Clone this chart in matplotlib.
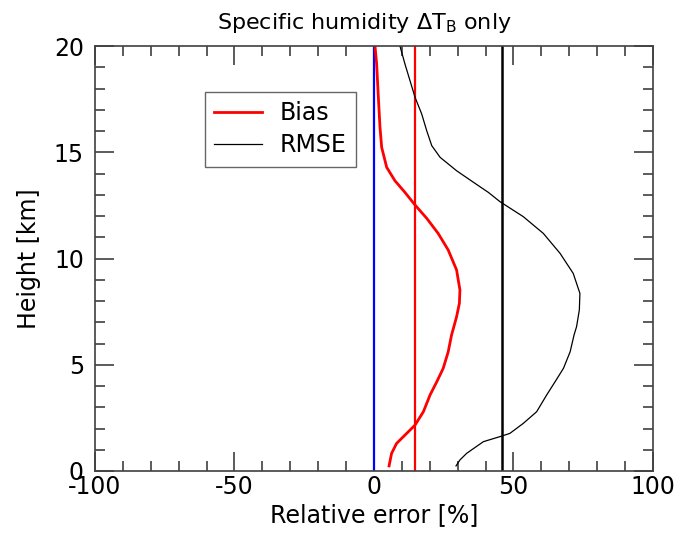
"""Relative error profiles of specific humidity for the TB-only retrieval."""

import matplotlib
matplotlib.use("Agg")
import matplotlib.pyplot as plt
from matplotlib.ticker import MultipleLocator


# values
bias_height = [0.24, 0.83, 1.3, 1.69, 2.16, 2.79, 3.58, 4.2, 4.83, 5.61, 6.4,
               7.26, 7.89, 8.52, 9.46, 10.4, 11.18, 11.89, 12.52, 13.11, 13.66,
               14.29, 15.23, 16.17, 17.74, 19.15, 20.0]
bias_value = [5.4, 6.3, 8.1, 11.1, 14.7, 17.7, 20.1, 22.5, 24.8, 26.6, 27.8,
              29.6, 30.6, 30.8, 29.6, 26.6, 23.0, 18.9, 14.7, 11.1, 7.5,
              4.55, 2.75, 2.15, 1.5, 0.95, 0.36]

rmse_height = [0.24, 0.52, 0.83, 1.38, 1.62, 1.77, 2.24, 2.79, 3.58, 4.2, 4.83,
               5.61, 6.4, 6.79, 7.58, 8.36, 9.3, 10.24, 11.18, 11.97, 12.67,
               13.11, 13.59, 14.13, 14.76, 15.31, 16.01, 16.8, 17.59, 18.37,
               19.15, 20.0]
rmse_value = [29.4, 30.8, 33.2, 39.2, 45.2, 48.7, 53.5, 58.3, 61.9, 64.9, 67.9,
              70.3, 71.7, 72.6, 73.6, 73.8, 71.4, 66.7, 60.7, 53.5, 45.2,
              41.0, 35.6, 29.6, 23.7, 20.7, 18.9, 17.1, 14.7, 12.9,
              11.1, 9.3]

mean_bias = 14.7
mean_rmse = 45.8

plt.rcParams["font.family"] = ["DejaVu Sans"]
plt.rcParams["axes.unicode_minus"] = False

fig = plt.figure(figsize=(6.79, 5.33), dpi=100)
ax = fig.add_axes([95 / 679, 62 / 533, 558 / 679, 425 / 533])

ax.axvline(0, color="blue", lw=1.6)
ax.axvline(mean_bias, color="red", lw=1.6)
ax.axvline(mean_rmse, color="black", lw=1.8)
ax.plot(bias_value, bias_height, color="red", lw=2.0, label="Bias")
ax.plot(rmse_value, rmse_height, color="black", lw=0.9, label="RMSE")

ax.set_xlim(-100, 100)
ax.set_ylim(0, 20)
ax.xaxis.set_major_locator(MultipleLocator(50))
ax.xaxis.set_minor_locator(MultipleLocator(10))
ax.yaxis.set_major_locator(MultipleLocator(5))
ax.yaxis.set_minor_locator(MultipleLocator(1))
ax.tick_params(which="both", direction="in", top=True, right=True,
               color="#404040", width=1.2, labelsize=17, pad=3)
ax.tick_params(axis="y", which="both", pad=8)
ax.tick_params(which="major", length=14)
ax.tick_params(which="minor", length=7)
for spine in ax.spines.values():
    spine.set_color("#404040")
    spine.set_linewidth(1.2)

ax.set_xlabel("Relative error [%]", fontsize=17, labelpad=3)
ax.set_ylabel("Height [km]", fontsize=17, labelpad=9.5)
ax.set_title(r"Specific humidity $\mathregular{\Delta T_B}$ only", fontsize=16,
             pad=12, x=0.482)

legend = ax.legend(loc="upper left", bbox_to_anchor=(0.197, 0.892), fontsize=17,
                   fancybox=False, edgecolor="#404040", handlelength=2.0,
                   borderpad=0.4, labelspacing=0.33, handletextpad=0.75,
                   borderaxespad=0)
legend.get_frame().set_linewidth(1.0)

fig.savefig("out.png", dpi=100)
